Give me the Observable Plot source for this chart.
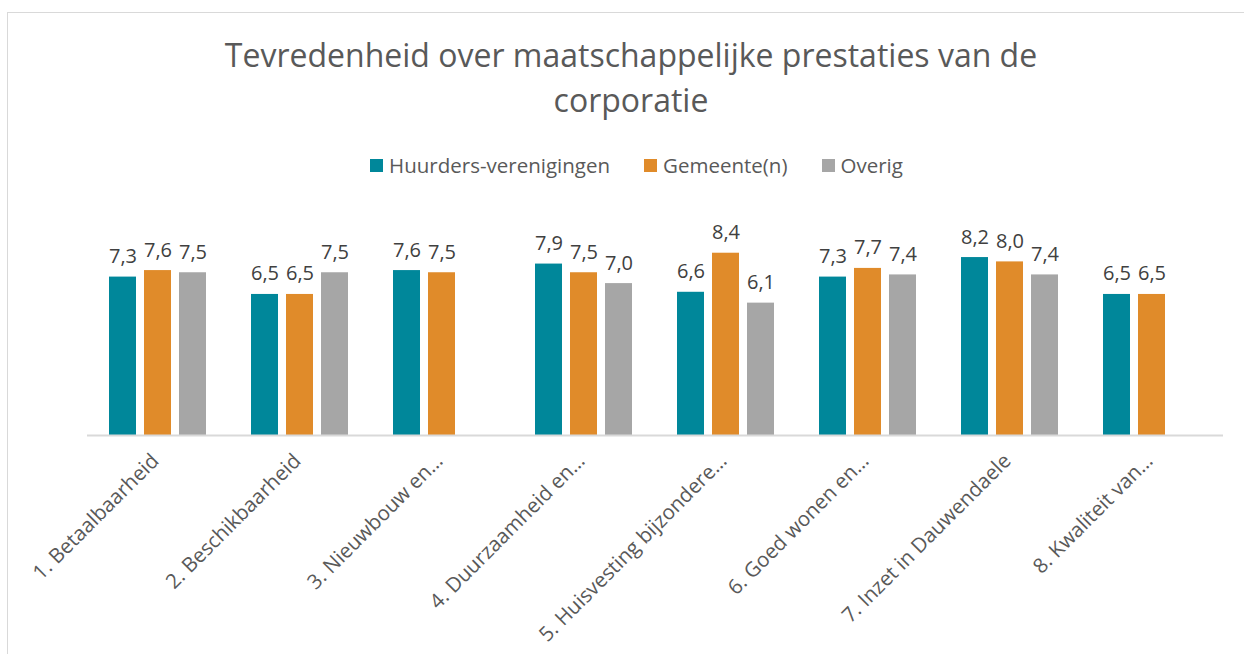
<!DOCTYPE html>
<html>
<head>
<meta charset="utf-8">
<script src="https://cdn.jsdelivr.net/npm/d3@7"></script>
<script src="https://cdn.jsdelivr.net/npm/@observablehq/plot@0.6"></script>
<style>
  html, body { margin: 0; padding: 0; background: #fff; overflow: hidden; }
  #wrap { position: relative; width: 1244px; height: 654px; font-family: "Open Sans", sans-serif; }
  #frame { position: absolute; left: 7px; top: 12px; width: 1400px; height: 800px; border-left: 1.5px solid #d9d9d9; border-top: 1.5px solid #d9d9d9; }
  #title { position: absolute; left: 0; top: 32px; width: 1262px; text-align: center; font-size: 32px; line-height: 45px; color: #595959; }
  #legend { position: absolute; left: 0; top: 152px; width: 1273px; display: flex; justify-content: center; align-items: center; font-size: 20.5px; line-height: 26px; color: #595959; }
  .item { display: flex; align-items: center; margin: 0 17px; }
  .sw { width: 13px; height: 13px; margin-right: 6px; }
  #chart { position: absolute; left: 0; top: 190px; }
</style>
</head>
<body>
<div id="wrap">
  <div id="frame"></div>
  <div id="title">Tevredenheid over maatschappelijke prestaties van de<br>corporatie</div>
  <div id="legend"></div>
  <div id="chart"></div>
</div>
<script>
const categories = ["1. Betaalbaarheid", "2. Beschikbaarheid", "3. Nieuwbouw en…", "4. Duurzaamheid en…", "5. Huisvesting bijzondere…", "6. Goed wonen en…", "7. Inzet in Dauwendaele", "8. Kwaliteit van…"];
const series = ["Huurders-verenigingen", "Gemeente(n)", "Overig"];
const huurders = [7.3, 6.5, 7.6, 7.9, 6.6, 7.3, 8.2, 6.5];
const gemeente = [7.6, 6.5, 7.5, 7.5, 8.4, 7.7, 8.0, 6.5];
const overig = [7.5, 7.5, null, 7.0, 6.1, 7.4, 7.4, null];
const colors = ["#00879A", "#E08B2A", "#A6A6A6"];

const valuesBySeries = [huurders, gemeente, overig];
const data = [];
categories.forEach((c, i) => {
  series.forEach((s, j) => {
    const v = valuesBySeries[j][i];
    if (v != null) data.push({category: c, series: s, value: v});
  });
});

const legend = document.getElementById("legend");
series.forEach((s, j) => {
  const it = document.createElement("div");
  it.className = "item";
  const sw = document.createElement("span");
  sw.className = "sw";
  sw.style.background = colors[j];
  const t = document.createElement("span");
  t.textContent = s;
  it.appendChild(sw);
  it.appendChild(t);
  legend.appendChild(it);
});

const fmt = v => v.toFixed(1).replace(".", ",");

const chart = Plot.plot({
  width: 1244,
  height: 464,
  marginLeft: 84,
  marginRight: 19,
  marginTop: 28,
  marginBottom: 219,
  style: {fontFamily: "Open Sans", fontSize: "20px", color: "#595959", background: "transparent"},
  fx: {domain: categories, padding: 0, label: null},
  x: {domain: series, axis: null, paddingInner: 0.222, paddingOuter: 0.59},
  y: {domain: [0, 10], axis: null},
  color: {domain: series, range: colors},
  marks: [
    Plot.barY(data, {fx: "category", x: "series", y: "value", fill: "series"}),
    Plot.text(data, {fx: "category", x: "series", y: "value", text: d => fmt(d.value), lineAnchor: "bottom", dy: -14, fill: "#404040", fontSize: 20}),
    Plot.ruleY([0], {stroke: "#d9d9d9", strokeWidth: 2}),
    Plot.axisFx({anchor: "bottom", tickRotate: -45, tickSize: 0, tickPadding: 22, dx: -3, label: null, fontSize: 20.5, fill: "#595959"})
  ]
});
document.getElementById("chart").appendChild(chart);
</script>
</body>
</html>
